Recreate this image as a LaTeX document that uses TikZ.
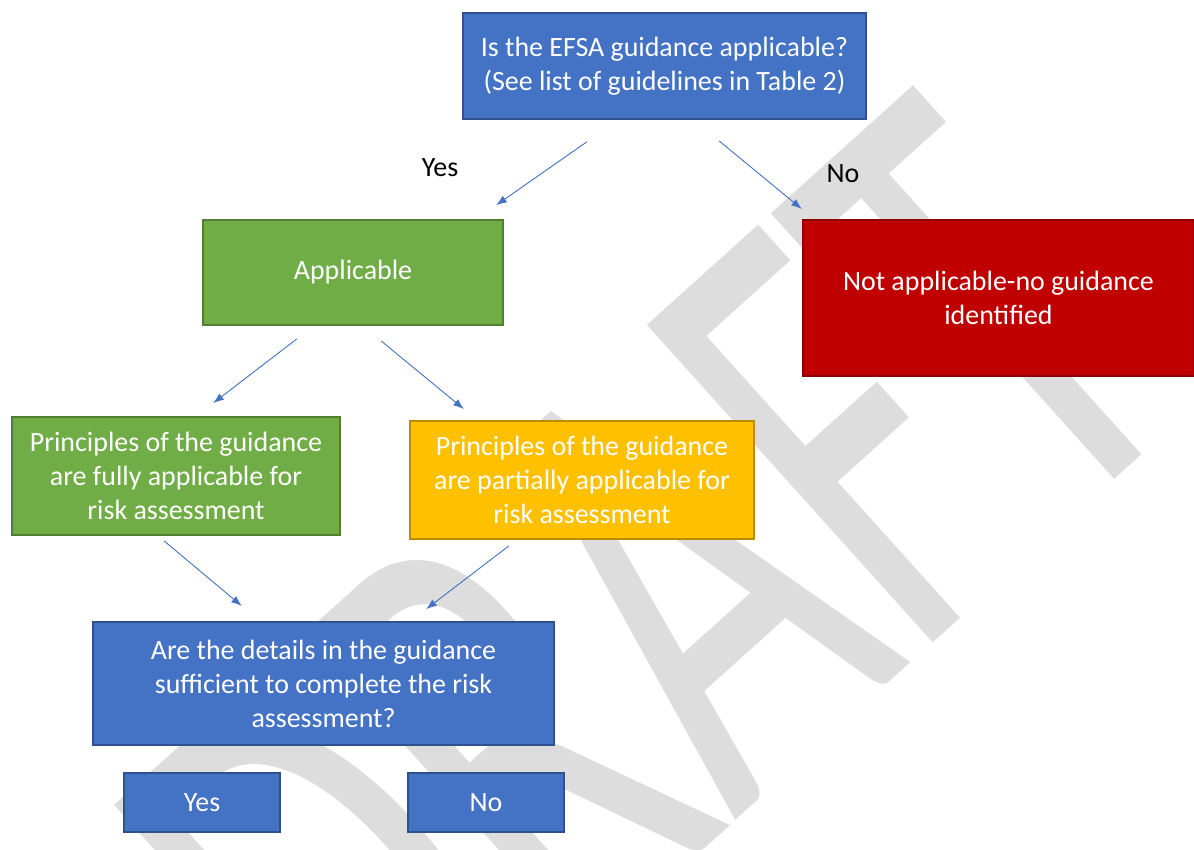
\documentclass[tikz,border=0pt]{standalone}
\usepackage{fontspec}
\setmainfont{Carlito}
\usepackage{xcolor}
\usetikzlibrary{arrows.meta}
\pgfdeclarelayer{edgelayer}
\pgfdeclarelayer{nodelayer}
\pgfsetlayers{edgelayer,nodelayer,main}
\definecolor{qblue}{HTML}{4472C4}
\definecolor{qblueline}{HTML}{2F528F}
\definecolor{okgreen}{HTML}{70AD47}
\definecolor{okgreenline}{HTML}{507E32}
\definecolor{partyellow}{HTML}{FFC000}
\definecolor{partyellowline}{HTML}{BC8C00}
\definecolor{nored}{HTML}{C00000}
\definecolor{noredline}{HTML}{8F0000}
\definecolor{draftgrey}{HTML}{DDDDDD}
\tikzstyle{none}=[inner sep=0pt]
\tikzstyle{box}=[rectangle,text=white,align=center,inner sep=0pt,line width=0.8pt,font=\fontsize{15.9}{19.3}\selectfont]
\tikzstyle{question}=[box,fill=qblue,draw=qblueline]
\tikzstyle{applies}=[box,fill=okgreen,draw=okgreenline]
\tikzstyle{partly}=[box,fill=partyellow,draw=partyellowline]
\tikzstyle{notapplies}=[box,fill=nored,draw=noredline]
\tikzstyle{answer}=[inner sep=0pt,font=\fontsize{15.9}{19.3}\selectfont]
\tikzstyle{flowarrow}=[-{Latex[length=6pt,width=4.5pt]}, draw=qblue, fill=qblue, line width=0.5pt]
\tikzstyle{watermark}=[text=draftgrey, inner sep=0pt, outer sep=0pt, font=\fontsize{379}{379}\selectfont]

\begin{document}
\begin{tikzpicture}[x=0.02cm,y=-0.02cm]
	\useasboundingbox (0,0) rectangle (1194,849);
	\begin{pgfonlayer}{nodelayer}
		\node [style=question, minimum width=8.06cm, minimum height=2.12cm] (efsa) at (664.5,66) {Is the EFSA guidance applicable?\\(See list of guidelines in Table 2)};
		\node [style=answer] (yeslabel) at (440,168) {Yes};
		\node [style=answer] (nolabel) at (843,174) {No};
		\node [style=applies, minimum width=6cm, minimum height=2.1cm] (applicable) at (353,272.5) {Applicable};
		\node [style=notapplies, minimum width=7.82cm, minimum height=3.12cm] (notapplicable) at (998.5,298) {Not applicable-no guidance\\identified};
		\node [style=applies, minimum width=6.56cm, minimum height=2.36cm] (fully) at (176,476) {Principles of the guidance\\are fully applicable for\\risk assessment};
		\node [style=partly, minimum width=6.88cm, minimum height=2.36cm] (partially) at (582,480) {Principles of the guidance\\are partially applicable for\\risk assessment};
		\node [style=question, minimum width=9.22cm, minimum height=2.46cm] (details) at (323.5,683.5) {Are the details in the guidance\\sufficient to complete the risk\\assessment?};
		\node [style=question, minimum width=3.12cm, minimum height=1.18cm] (yes) at (202,802.5) {Yes};
		\node [style=question, minimum width=3.12cm, minimum height=1.18cm] (no) at (486,802.5) {No};
		\node [style=none] (EYS) at (588,141) {};
		\node [style=none] (EYE) at (495,206) {};
		\node [style=none] (ENS) at (718,140) {};
		\node [style=none] (ENE) at (803,210) {};
		\node [style=none] (AFS) at (298,338) {};
		\node [style=none] (AFE) at (212,404) {};
		\node [style=none] (APS) at (380,340) {};
		\node [style=none] (APE) at (465,410) {};
		\node [style=none] (FDS) at (163,540) {};
		\node [style=none] (FDE) at (243,607) {};
		\node [style=none] (PDS) at (510,545) {};
		\node [style=none] (PDE) at (425,610) {};
	\end{pgfonlayer}
	\begin{pgfonlayer}{edgelayer}
		\begin{scope}
			\clip (0,0) rectangle (1194,849);
			\begin{scope}[shift={(1203,400)}, rotate=42, xscale=0.62, transform shape]
				\node [style=watermark, anchor=base east] (draft) at (0,0) {DRAFT};
			\end{scope}
		\end{scope}
		\draw [style=flowarrow] (EYS) to (EYE);
		\draw [style=flowarrow] (ENS) to (ENE);
		\draw [style=flowarrow] (AFS) to (AFE);
		\draw [style=flowarrow] (APS) to (APE);
		\draw [style=flowarrow] (FDS) to (FDE);
		\draw [style=flowarrow] (PDS) to (PDE);
	\end{pgfonlayer}
\end{tikzpicture}
\end{document}
